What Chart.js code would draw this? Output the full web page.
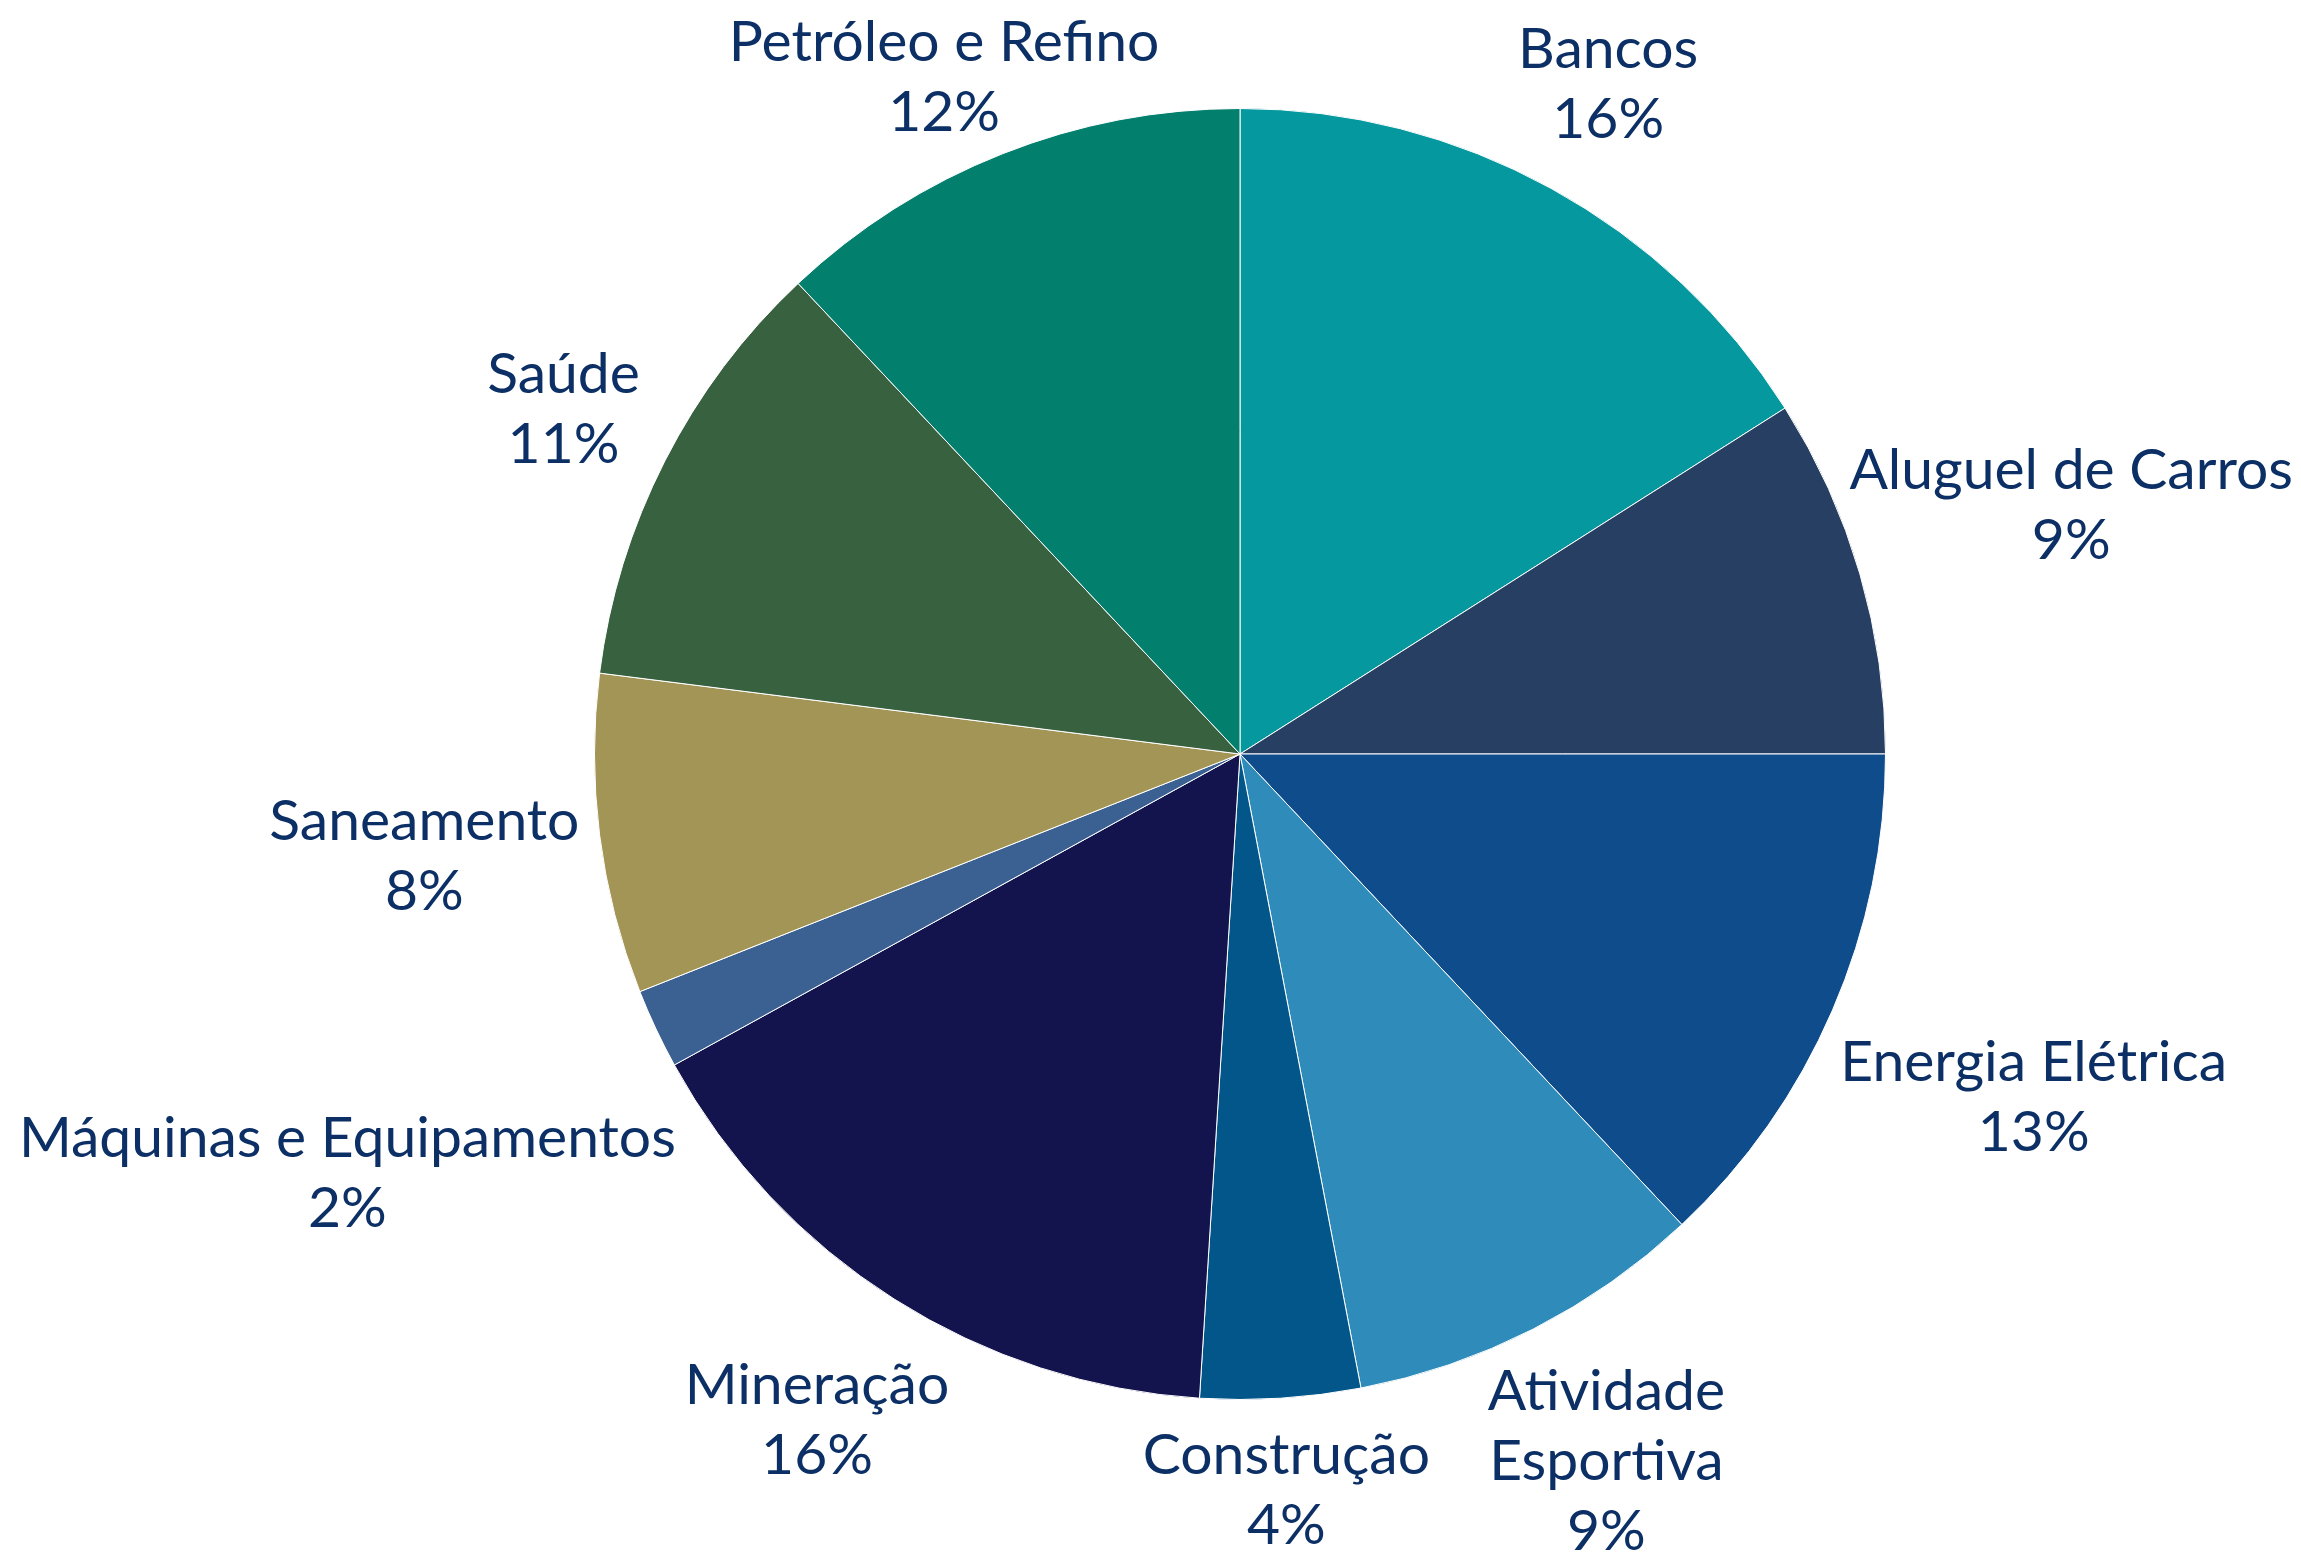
<!DOCTYPE html>
<html>
<head>
<meta charset="utf-8">
<script src="https://cdn.jsdelivr.net/npm/chart.js@4.4.1/dist/chart.umd.min.js"></script>
<style>
  html, body { margin: 0; padding: 0; background: #ffffff; }
  #wrap { width: 2301px; height: 1567px; position: relative; }
</style>
</head>
<body>
<div id="wrap"><canvas id="setores"></canvas></div>
<script>
const setores = [
  'Bancos',
  'Aluguel de Carros',
  'Energia Elétrica',
  ['Atividade', 'Esportiva'],
  'Construção',
  'Mineração',
  'Máquinas e Equipamentos',
  'Saneamento',
  'Saúde',
  'Petróleo e Refino'
];
const pesos = [16, 9, 13, 9, 4, 16, 2, 8, 11, 12];
const cores = [
  '#05989e', '#263f63', '#0e4c8c', '#2e8bba', '#035689',
  '#13134e', '#3b6193', '#a29555', '#37613f', '#037f6e'
];

const corTexto = '#0c3066';
const fonteRotulo = '57px Lato';
const alturaLinha = 70;

// rotulos fora da pizza, como no excel
const rotulosFora = {
  id: 'rotulosFora',
  afterDatasetsDraw(chart) {
    const ctx = chart.ctx;
    const meta = chart.getDatasetMeta(0);
    ctx.save();
    ctx.font = fonteRotulo;
    ctx.fillStyle = corTexto;
    ctx.textAlign = 'center';
    ctx.textBaseline = 'middle';
    meta.data.forEach((arco, i) => {
      const p = arco.getProps(['x', 'y', 'startAngle', 'endAngle', 'outerRadius'], true);
      const meio = (p.startAngle + p.endAngle) / 2;
      const dx = Math.cos(meio);
      const dy = Math.sin(meio);
      const nome = chart.data.labels[i];
      const linhas = (Array.isArray(nome) ? nome : [nome]).concat([pesos[i] + '%']);
      const larg = Math.max(...linhas.map(l => ctx.measureText(l).width));
      const alt = linhas.length * alturaLinha;
      const dist = p.outerRadius + 14 + Math.abs(dx) * larg / 2 + Math.abs(dy) * alt / 2;
      let cx = p.x + dx * dist;
      let cy = p.y + dy * dist;
      // manter dentro do canvas
      cx = Math.min(cx, chart.width - 8 - larg / 2);
      cx = Math.max(cx, 8 + larg / 2);
      cy = Math.max(cy, 8 + alt / 2);
      cy = Math.min(cy, chart.height - alt / 2);
      linhas.forEach((l, k) => {
        ctx.fillText(l, cx, cy - alt / 2 + alturaLinha * (k + 0.5));
      });
    });
    ctx.restore();
  }
};

new Chart(document.getElementById('setores'), {
  type: 'pie',
  data: {
    labels: setores,
    datasets: [{
      data: pesos,
      backgroundColor: cores,
      borderColor: '#ffffff',
      borderWidth: 1
    }]
  },
  options: {
    responsive: true,
    maintainAspectRatio: false,
    animation: false,
    layout: { padding: { top: 108, bottom: 167, left: 179, right: 0 } },
    plugins: {
      legend: { display: false },
      tooltip: { enabled: false }
    }
  },
  plugins: [rotulosFora]
});
</script>
</body>
</html>
